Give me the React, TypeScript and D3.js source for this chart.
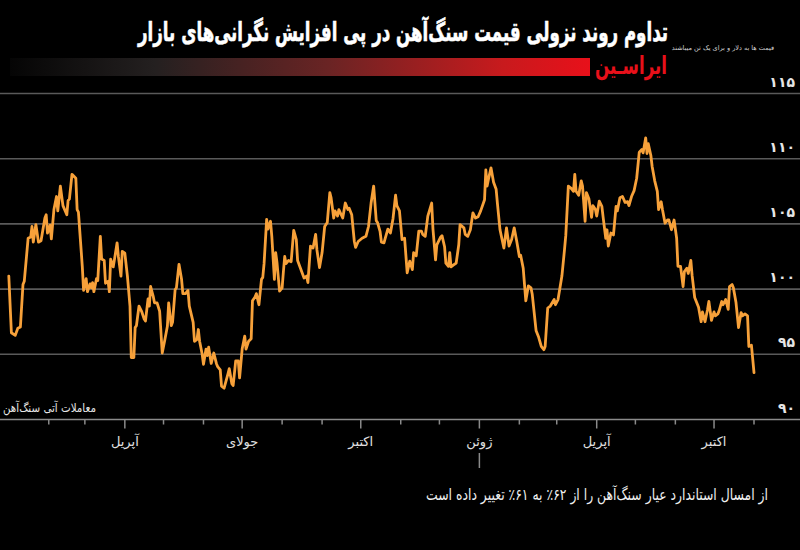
import React from 'react';
import * as d3 from 'd3';

// ---- data ----
const dates: string[] = [
  '2023-01-01','2023-01-03','2023-01-06','2023-01-08','2023-01-10','2023-01-12','2023-01-13','2023-01-16','2023-01-18','2023-01-19',
  '2023-01-20','2023-01-22','2023-01-24','2023-01-26','2023-01-29','2023-01-30','2023-01-31','2023-02-02','2023-02-03','2023-02-05',
  '2023-02-07','2023-02-08','2023-02-10','2023-02-12','2023-02-15','2023-02-16','2023-02-17','2023-02-19','2023-02-22','2023-02-23',
  '2023-02-24','2023-02-27','2023-02-28','2023-03-02','2023-03-03','2023-03-05','2023-03-06','2023-03-07','2023-03-08','2023-03-10',
  '2023-03-11','2023-03-13','2023-03-14','2023-03-16','2023-03-17','2023-03-19','2023-03-20','2023-03-21','2023-03-23','2023-03-24',
  '2023-03-26','2023-03-27','2023-03-29','2023-03-30','2023-04-01','2023-04-03','2023-04-05','2023-04-06','2023-04-08','2023-04-09',
  '2023-04-10','2023-04-12','2023-04-14','2023-04-16','2023-04-17','2023-04-19','2023-04-20','2023-04-21','2023-04-23','2023-04-24',
  '2023-04-26','2023-04-28','2023-04-30','2023-05-02','2023-05-04','2023-05-05','2023-05-07','2023-05-08','2023-05-10','2023-05-11',
  '2023-05-13','2023-05-15','2023-05-16','2023-05-18','2023-05-20','2023-05-21','2023-05-24','2023-05-25','2023-05-27','2023-05-28',
  '2023-05-29','2023-05-31','2023-06-01','2023-06-03','2023-06-04','2023-06-05','2023-06-07','2023-06-09','2023-06-11','2023-06-12',
  '2023-06-14','2023-06-15','2023-06-17','2023-06-20','2023-06-21','2023-06-23','2023-06-24','2023-06-26','2023-06-28','2023-06-29',
  '2023-07-01','2023-07-03','2023-07-04','2023-07-06','2023-07-08','2023-07-09','2023-07-11','2023-07-12','2023-07-14','2023-07-16',
  '2023-07-17','2023-07-18','2023-07-20','2023-07-21','2023-07-23','2023-07-24','2023-07-26','2023-07-27','2023-07-28','2023-07-30',
  '2023-08-01','2023-08-02','2023-08-03','2023-08-04','2023-08-06','2023-08-08','2023-08-10','2023-08-12','2023-08-13','2023-08-15',
  '2023-08-18','2023-08-20','2023-08-21','2023-08-23','2023-08-25','2023-08-27','2023-08-28','2023-08-30','2023-09-01','2023-09-03',
  '2023-09-05','2023-09-07','2023-09-08','2023-09-10','2023-09-11','2023-09-13','2023-09-14','2023-09-17','2023-09-19','2023-09-21',
  '2023-09-22','2023-09-24','2023-09-26','2023-09-27','2023-09-29','2023-10-02','2023-10-05','2023-10-07','2023-10-09','2023-10-11',
  '2023-10-13','2023-10-14','2023-10-16','2023-10-17','2023-10-19','2023-10-20','2023-10-22','2023-10-24','2023-10-26','2023-10-28',
  '2023-10-29','2023-10-31','2023-11-02','2023-11-04','2023-11-06','2023-11-08','2023-11-10','2023-11-11','2023-11-13','2023-11-15',
  '2023-11-17','2023-11-18','2023-11-20','2023-11-22','2023-11-25','2023-11-26','2023-11-28','2023-11-29','2023-12-02','2023-12-03',
  '2023-12-05','2023-12-06','2023-12-08','2023-12-09','2023-12-10','2023-12-12','2023-12-14','2023-12-16','2023-12-17','2023-12-20',
  '2023-12-21','2023-12-23','2023-12-25','2023-12-27','2023-12-29','2023-12-31','2024-01-02','2024-01-05','2024-01-06','2024-01-07',
  '2024-01-08','2024-01-10','2024-01-12','2024-01-14','2024-01-15','2024-01-17','2024-01-20','2024-01-22','2024-01-24','2024-01-26',
  '2024-01-28','2024-01-30','2024-02-01','2024-02-02','2024-02-04','2024-02-06','2024-02-08','2024-02-10','2024-02-11','2024-02-14',
  '2024-02-16','2024-02-18','2024-02-20','2024-02-21','2024-02-23','2024-02-25','2024-02-28','2024-02-29','2024-03-02','2024-03-05',
  '2024-03-07','2024-03-08','2024-03-10','2024-03-12','2024-03-14','2024-03-15','2024-03-16','2024-03-18','2024-03-20','2024-03-21',
  '2024-03-23','2024-03-24','2024-03-26','2024-03-28','2024-03-29','2024-03-31','2024-04-01','2024-04-03','2024-04-05','2024-04-06',
  '2024-04-08','2024-04-09','2024-04-10','2024-04-12','2024-04-14','2024-04-16','2024-04-17','2024-04-19','2024-04-21','2024-04-23',
  '2024-04-25','2024-04-26','2024-04-28','2024-04-30','2024-05-02','2024-05-04','2024-05-06','2024-05-07','2024-05-09','2024-05-10',
  '2024-05-11','2024-05-13','2024-05-14','2024-05-16','2024-05-18','2024-05-19','2024-05-21','2024-05-22','2024-05-24','2024-05-26',
  '2024-05-27','2024-05-29','2024-05-31','2024-06-02','2024-06-03','2024-06-05','2024-06-07','2024-06-08','2024-06-10','2024-06-11',
  '2024-06-13','2024-06-14','2024-06-16','2024-06-17','2024-06-19','2024-06-21','2024-06-22','2024-06-24','2024-06-26','2024-06-27',
  '2024-06-29','2024-07-01','2024-07-02','2024-07-04','2024-07-05','2024-07-07','2024-07-08','2024-07-10','2024-07-12','2024-07-13',
  '2024-07-15','2024-07-16','2024-07-18','2024-07-20','2024-07-22','2024-07-23','2024-07-25','2024-07-27','2024-07-28','2024-07-30',
  '2024-08-01',
];

const prices: number[] = [
  101.0, 96.65, 96.45, 97.0, 97.1, 100.35, 100.6, 103.9, 104.0, 104.8,
  103.6, 104.95, 103.6, 103.7, 105.45, 105.7, 104.3, 104.9, 103.85, 106.1,
  107.1, 106.0, 107.9, 106.4, 105.7, 106.8, 106.9, 108.8, 108.5, 106.1,
  105.9, 101.75, 99.9, 100.8, 99.8, 100.4, 100.1, 100.5, 99.8, 100.8,
  100.65, 104.05, 102.3, 102.2, 100.45, 100.6, 99.8, 102.3, 101.7, 102.3,
  103.55, 102.5, 101.0, 102.9, 102.75, 101.0, 98.7, 94.75, 94.75, 97.05,
  97.2, 98.7, 98.3, 97.7, 97.55, 99.25, 98.7, 100.2, 99.45, 98.95,
  98.95, 98.3, 95.1, 96.1, 97.15, 98.95, 97.2, 97.45, 99.95, 100.1,
  101.9, 100.75, 99.65, 99.65, 99.9, 98.7, 97.45, 96.0, 96.15, 96.9,
  96.0, 95.0, 94.23, 95.4, 94.9, 95.55, 94.3, 95.1, 94.3, 94.05,
  93.8, 92.55, 92.4, 93.5, 93.9, 92.75, 92.6, 94.5, 94.5, 93.2,
  95.4, 96.4, 95.4, 96.0, 96.2, 99.1, 99.4, 99.65, 98.8, 100.75,
  100.9, 101.95, 105.35, 104.6, 105.2, 104.05, 100.75, 102.8, 102.05, 99.85,
  100.1, 101.35, 102.5, 101.95, 102.2, 102.1, 104.5, 103.8, 102.2, 101.65,
  100.85, 101.0, 100.5, 103.3, 103.15, 104.2, 103.0, 101.65, 102.8, 104.8,
  105.1, 107.4, 107.0, 105.45, 106.0, 105.6, 106.1, 105.45, 106.6, 106.1,
  106.2, 105.7, 103.65, 103.2, 103.65, 103.9, 104.05, 104.8, 106.6, 107.9,
  105.25, 105.1, 104.4, 103.6, 103.55, 103.9, 104.6, 104.3, 105.4, 107.2,
  106.4, 106.0, 103.8, 103.9, 101.25, 102.15, 101.5, 102.8, 102.55, 104.45,
  104.45, 104.2, 104.05, 105.6, 106.6, 104.6, 102.25, 103.4, 104.0, 104.1,
  103.25, 102.0, 101.75, 102.8, 101.7, 101.85, 102.0, 103.4, 104.95, 104.7,
  104.2, 104.05, 104.55, 105.85, 105.45, 105.55, 106.0, 106.85, 109.15, 107.9,
  108.4, 109.3, 108.2, 107.65, 106.55, 104.55, 103.15, 104.7, 103.3, 103.8,
  104.7, 103.65, 102.5, 102.6, 101.6, 99.1, 100.25, 100.1, 99.6, 96.8,
  96.3, 95.6, 95.35, 95.6, 98.55, 98.7, 99.2, 98.8, 99.2, 101.0,
  103.0, 104.1, 107.9, 107.75, 107.5, 108.8, 107.5, 107.2, 108.3, 107.9,
  105.2, 107.4, 106.9, 105.5, 106.4, 106.1, 105.6, 106.75, 106.35, 105.5,
  103.9, 104.55, 103.3, 104.3, 104.15, 106.35, 106.0, 107.0, 107.1, 106.65,
  106.7, 106.4, 107.1, 107.55, 108.5, 110.5, 110.7, 110.45, 111.6, 110.4,
  111.15, 110.25, 109.4, 108.3, 107.5, 106.1, 106.7, 106.1, 105.05, 105.3,
  105.3, 104.55, 105.3, 103.9, 101.75, 101.75, 100.2, 101.35, 101.6, 101.2,
  102.2, 101.05, 99.35, 99.1, 98.6, 97.5, 98.25, 97.5, 98.45, 99.05,
  97.6, 98.25, 97.95, 98.1, 98.35, 99.05, 98.8, 99.2, 98.45, 100.2,
  100.35, 100.1, 99.0, 97.05, 98.2, 97.95, 98.1, 97.95, 95.6, 95.7,
  93.6,
];

const yTicks: number[] = [90, 95, 100, 105, 110, 115];
const yTickLabels: string[] = ['۹۰', '۹۵', '۱۰۰', '۱۰۵', '۱۱۰', '۱۱۵'];

const monthTicks: string[] = [
  '2023-02-01','2023-03-01','2023-04-01','2023-05-01','2023-06-01','2023-07-01','2023-08-01','2023-09-01','2023-10-01',
  '2023-11-01','2023-12-01','2024-01-01','2024-02-01','2024-03-01','2024-04-01','2024-05-01','2024-06-01','2024-07-01','2024-08-01',
];
const majorTickDates: string[] = ['2023-04-01', '2023-07-01', '2023-10-01', '2024-01-01', '2024-04-01', '2024-07-01'];
const majorTickLabels: string[] = ['آپریل', 'جولای', 'اکتبر', 'ژوئن', 'آپریل', 'اکتبر'];

const titleText = 'تداوم روند نزولی قیمت سنگ‌آهن در پی افزایش نگرانی‌های بازار';
const unitText = 'قیمت ها به دلار و برای یک تن میباشند';
const logoText = 'ایراسـین';
const seriesLabel = 'معاملات آتی سنگ‌آهن';
const noteText = 'از امسال استاندارد عیار سنگ‌آهن را از ۶۲٪ به ۶۱٪ تغییر داده است';
const annotatedTick = '2024-01-01';

// ---- chart ----
const W = 800;
const H = 550;
const FONT = '"DejaVu Sans", "Noto Sans", sans-serif';

const parse = d3.timeParse('%Y-%m-%d');

export default function App() {
  const data = dates.map((d, i) => ({ date: parse(d) as Date, v: prices[i] }));

  const x = d3
    .scaleTime()
    .domain([parse('2023-01-01') as Date, parse('2024-08-01') as Date])
    .range([8.8, 754]);
  const y = d3.scaleLinear().domain([90, 115]).range([419.5, 93.5]);

  const line = d3
    .line<{ date: Date; v: number }>()
    .x((d) => x(d.date))
    .y((d) => y(d.v));

  const majorSet = new Set(majorTickDates);
  const axisY = y(90);

  return (
    <svg
      width={W}
      height={H}
      viewBox={`0 0 ${W} ${H}`}
      style={{ position: 'fixed', left: 0, top: 0, background: '#000', display: 'block' }}
      fontFamily={FONT}
    >
      <defs>
        <linearGradient id="bar" x1="0" x2="1" y1="0" y2="0">
          <stop offset="0%" stopColor="#050505" />
          <stop offset="25%" stopColor="#242020" />
          <stop offset="55%" stopColor="#6a2424" />
          <stop offset="85%" stopColor="#c81a1d" />
          <stop offset="100%" stopColor="#e8101a" />
        </linearGradient>
      </defs>
      <rect x={0} y={0} width={W} height={H} fill="#000" />

      {/* header */}
      <text
        x={668}
        y={41}
        textAnchor="end"
        fill="#fff"
        fontSize={26}
        fontWeight="bold"
        stroke="#fff"
        strokeWidth={0.6}
        textLength={530}
        lengthAdjust="spacingAndGlyphs"
      >
        {titleText}
      </text>
      <text x={774} y={50} textAnchor="end" fill="#d0d0d0" fontSize={6.5}>
        {unitText}
      </text>
      <rect x={10} y={58} width={580} height={18} fill="url(#bar)" />
      <text
        x={667}
        y={74}
        textAnchor="end"
        fill="#e8101a"
        fontSize={25}
        fontWeight="bold"
        textLength={72}
        lengthAdjust="spacingAndGlyphs"
      >
        {logoText}
      </text>

      {/* gridlines */}
      {yTicks
        .filter((t) => t !== 90)
        .map((t) => (
          <line key={t} x1={0} x2={W} y1={y(t)} y2={y(t)} stroke="#5a5a5a" strokeWidth={1.6} />
        ))}

      {/* y labels */}
      {yTicks.map((t, i) => (
        <text
          key={'yl' + t}
          x={795}
          y={y(t) - 7}
          textAnchor="end"
          fill="#e6e6e6"
          fontSize={14}
          fontWeight="bold"
        >
          {yTickLabels[i]}
        </text>
      ))}

      {/* series */}
      <path d={line(data) || ''} fill="none" stroke="#f7a13a" strokeWidth={2.8} strokeLinejoin="round" strokeLinecap="round" />

      {/* series label */}
      <text
        x={96}
        y={412}
        textAnchor="end"
        fill="#e6e6e6"
        fontSize={12}
        textLength={93}
        lengthAdjust="spacingAndGlyphs"
      >
        {seriesLabel}
      </text>

      {/* x axis */}
      <line x1={0} x2={W} y1={axisY} y2={axisY} stroke="#8a8a8a" strokeWidth={1.5} />
      {monthTicks.map((m) => {
        const d = parse(m) as Date;
        const major = majorSet.has(m);
        return (
          <line
            key={m}
            x1={x(d)}
            x2={x(d)}
            y1={axisY}
            y2={axisY + (major ? 9 : 5)}
            stroke="#8a8a8a"
            strokeWidth={1.5}
          />
        );
      })}
      {majorTickDates.map((m, i) => (
        <text key={'xl' + i} x={x(parse(m) as Date)} y={446} textAnchor="middle" fill="#e0e0e0" fontSize={13}>
          {majorTickLabels[i]}
        </text>
      ))}
      <line
        x1={x(parse(annotatedTick) as Date)}
        x2={x(parse(annotatedTick) as Date)}
        y1={453}
        y2={468}
        stroke="#8a8a8a"
        strokeWidth={1.5}
      />

      {/* note */}
      <text
        x={768}
        y={500}
        textAnchor="end"
        fill="#f0f0f0"
        fontSize={16}
        textLength={342}
        lengthAdjust="spacingAndGlyphs"
      >
        {noteText}
      </text>
    </svg>
  );
}
